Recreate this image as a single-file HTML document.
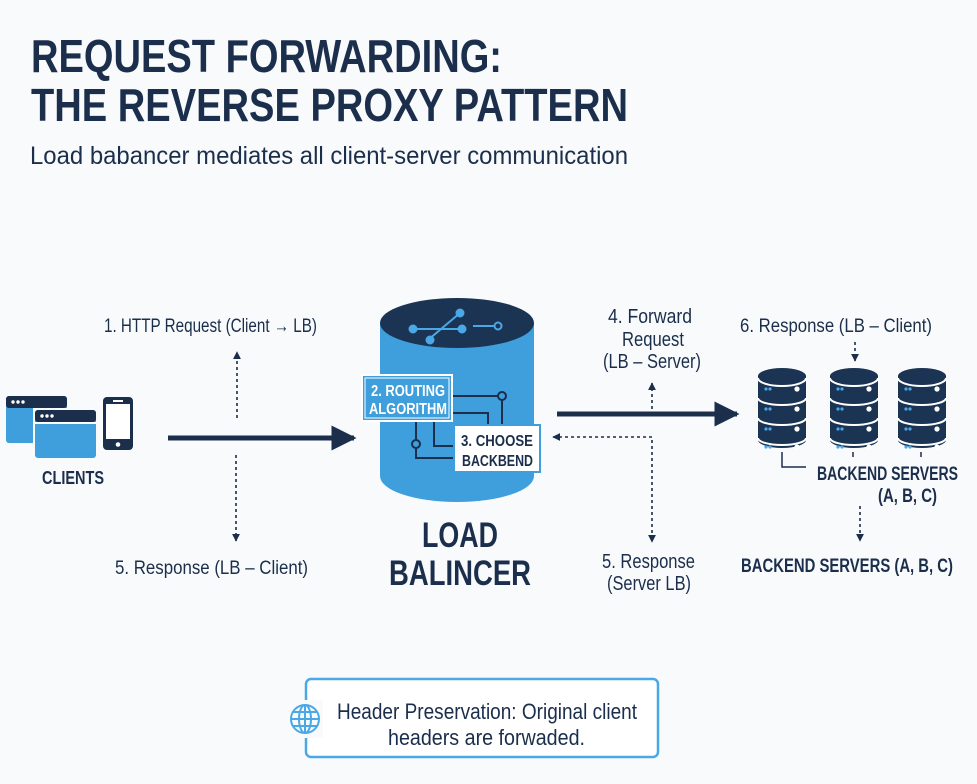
<!DOCTYPE html>
<html><head><meta charset="utf-8"><style>
html,body{margin:0;padding:0;background:#f8fafc;}
svg{display:block;}
text{font-family:"Liberation Sans Narrow","Liberation Sans",sans-serif;fill:#1b2e4b;}
</style></head><body>
<svg width="977" height="784" viewBox="0 0 977 784" xmlns="http://www.w3.org/2000/svg">
<defs>
<marker id="ah" viewBox="0 0 10 10" refX="9" refY="5" markerWidth="5" markerHeight="5" orient="auto-start-reverse"><path d="M0,0 L10,5 L0,10 z" fill="#1b2e4b"/></marker>
<g id="srv">
  <path d="M0,8 A24,8 0 0 1 48,8 L48,72 A24,8 0 0 1 0,72 Z" fill="#1b3454"/>
  <path d="M0,10 A24,8 0 0 0 48,10" fill="none" stroke="#fff" stroke-width="2"/>
  <path d="M0,30 A24,7 0 0 0 48,30" fill="none" stroke="#fff" stroke-width="2"/>
  <path d="M0,50 A24,7 0 0 0 48,50" fill="none" stroke="#fff" stroke-width="2"/>
  <path d="M0,70 A24,7 0 0 0 48,70" fill="none" stroke="#fff" stroke-width="2"/>
  <g fill="#4aa8e6"><circle cx="8" cy="21" r="1.6"/><circle cx="12" cy="21" r="1.6"/><circle cx="8" cy="41" r="1.6"/><circle cx="12" cy="41" r="1.6"/><circle cx="8" cy="61" r="1.6"/><circle cx="12" cy="61" r="1.6"/><circle cx="8" cy="79" r="1.6"/><circle cx="12" cy="79" r="1.6"/></g>
  <g fill="#fff"><circle cx="39" cy="21" r="2.6"/><circle cx="39" cy="41" r="2.6"/><circle cx="39" cy="61" r="2.6"/><circle cx="39" cy="79" r="2.6"/></g>
</g>
</defs>

<text x="31" y="72" font-size="46" font-weight="bold" textLength="471" lengthAdjust="spacingAndGlyphs">REQUEST FORWARDING:</text>
<text x="31" y="121" font-size="46" font-weight="bold" textLength="597" lengthAdjust="spacingAndGlyphs">THE REVERSE PROXY PATTERN</text>
<text x="30" y="164" font-size="25" textLength="598" lengthAdjust="spacingAndGlyphs">Load babancer mediates all client-server communication</text>

<rect x="6" y="396" width="61" height="47" rx="3" fill="#3e9fdc"/>
<rect x="6" y="396" width="61" height="12" rx="3" fill="#1b2e4b"/>
<g fill="#fff"><circle cx="13" cy="402" r="1.7"/><circle cx="18" cy="402" r="1.7"/><circle cx="23" cy="402" r="1.7"/></g>
<rect x="33" y="408" width="64" height="52" fill="#f8fafc"/>
<rect x="35" y="410" width="61" height="48" rx="3" fill="#3e9fdc"/>
<rect x="35" y="410" width="61" height="12" rx="3" fill="#1b2e4b"/>
<rect x="35" y="422" width="61" height="2" fill="#fff"/>
<g fill="#fff"><circle cx="42" cy="416" r="1.7"/><circle cx="47" cy="416" r="1.7"/><circle cx="52" cy="416" r="1.7"/></g>
<rect x="103" y="397" width="30" height="53" rx="4" fill="#1b2e4b"/>
<rect x="106" y="404" width="24" height="35" fill="#fff"/>
<rect x="113" y="400" width="10" height="2" fill="#fff"/>
<circle cx="118" cy="444.5" r="2.3" fill="#fff"/>
<text x="42" y="484" font-size="18" font-weight="bold" textLength="62" lengthAdjust="spacingAndGlyphs">CLIENTS</text>

<line x1="168" y1="438" x2="354" y2="438" stroke="#1b2e4b" stroke-width="5" marker-end="url(#ah)"/>
<line x1="237" y1="418" x2="237" y2="352" stroke="#1b2e4b" stroke-width="1.6" stroke-dasharray="3,3" marker-end="url(#ah)"/>
<line x1="236" y1="455" x2="236" y2="541" stroke="#1b2e4b" stroke-width="1.6" stroke-dasharray="3,3" marker-end="url(#ah)"/>
<text x="104" y="332" font-size="19" textLength="213" lengthAdjust="spacingAndGlyphs">1. HTTP Request (Client → LB)</text>
<text x="115" y="574" font-size="19" textLength="193" lengthAdjust="spacingAndGlyphs">5. Response (LB – Client)</text>

<path d="M380,323 L380,476 A77,26 0 0 0 534,476 L534,323 Z" fill="#3e9fdc"/>
<ellipse cx="457" cy="323" rx="77" ry="25" fill="#1b3454"/>
<g stroke="#4aa8e6" stroke-width="2" fill="#4aa8e6">
  <line x1="413" y1="329" x2="462" y2="329"/>
  <line x1="428" y1="340" x2="460" y2="313"/>
  <circle cx="413" cy="329" r="3.5"/><circle cx="462" cy="329" r="3.5"/><circle cx="430" cy="340" r="3.5"/><circle cx="460" cy="313" r="3.5"/>
  <line x1="473" y1="326" x2="494" y2="326"/>
  <circle cx="498" cy="326" r="3.5" fill="none"/>
</g>
<g stroke="#1b2e4b" stroke-width="2" fill="none">
  <path d="M452,396 L502,396 L502,425"/>
  <circle cx="502" cy="396" r="4" fill="#3e9fdc"/>
  <path d="M452,413 L488,413 L488,425"/>
  <path d="M416,421 L416,458 L454,458"/>
  <circle cx="416" cy="444" r="4" fill="#3e9fdc"/>
  <path d="M434,421 L434,446 L454,446"/>
</g>
<rect x="362" y="375" width="90" height="46" fill="#3e9fdc" stroke="#fff" stroke-width="2"/>
<rect x="365" y="378" width="84" height="40" fill="none" stroke="#fff" stroke-width="1"/>
<text x="371" y="396" font-size="16" font-weight="bold" style="fill:#fff" textLength="74" lengthAdjust="spacingAndGlyphs">2. ROUTING</text>
<text x="369" y="414" font-size="16" font-weight="bold" style="fill:#fff" textLength="78" lengthAdjust="spacingAndGlyphs">ALGORITHM</text>
<rect x="454" y="425" width="86" height="47" fill="#fff" stroke="#3e9fdc" stroke-width="2"/>
<text x="461" y="446" font-size="16" font-weight="bold" textLength="72" lengthAdjust="spacingAndGlyphs">3. CHOOSE</text>
<text x="462" y="466" font-size="16" font-weight="bold" textLength="71" lengthAdjust="spacingAndGlyphs">BACKBEND</text>
<text x="422" y="547" font-size="35" font-weight="bold" textLength="76" lengthAdjust="spacingAndGlyphs">LOAD</text>
<text x="389" y="585" font-size="35" font-weight="bold" textLength="142" lengthAdjust="spacingAndGlyphs">BALINCER</text>

<line x1="557" y1="414" x2="737" y2="414" stroke="#1b2e4b" stroke-width="5" marker-end="url(#ah)"/>
<line x1="652" y1="437" x2="553" y2="437" stroke="#1b2e4b" stroke-width="1.6" stroke-dasharray="3,3" marker-end="url(#ah)"/>
<line x1="652" y1="409" x2="652" y2="383" stroke="#1b2e4b" stroke-width="1.6" stroke-dasharray="3,3" marker-end="url(#ah)"/>
<line x1="652" y1="440" x2="652" y2="542" stroke="#1b2e4b" stroke-width="1.6" stroke-dasharray="3,3" marker-end="url(#ah)"/>
<g font-size="20">
<text x="608" y="323" textLength="84" lengthAdjust="spacingAndGlyphs">4. Forward</text>
<text x="622" y="346" textLength="62" lengthAdjust="spacingAndGlyphs">Request</text>
<text x="603" y="368" textLength="98" lengthAdjust="spacingAndGlyphs">(LB – Server)</text>
<text x="602" y="568" textLength="93" lengthAdjust="spacingAndGlyphs">5. Response</text>
<text x="607" y="590" textLength="84" lengthAdjust="spacingAndGlyphs">(Server LB)</text>
</g>

<text x="740" y="332" font-size="19" textLength="192" lengthAdjust="spacingAndGlyphs">6. Response (LB – Client)</text>
<line x1="855" y1="342" x2="855" y2="361" stroke="#1b2e4b" stroke-width="1.6" stroke-dasharray="3,3" marker-end="url(#ah)"/>
<use href="#srv" x="758" y="368"/>
<use href="#srv" x="830" y="368"/>
<use href="#srv" x="898" y="368"/>
<line x1="853" y1="452" x2="853" y2="457" stroke="#1b2e4b" stroke-width="1.5"/>
<line x1="921" y1="452" x2="921" y2="457" stroke="#1b2e4b" stroke-width="1.5"/>
<path d="M782,452 L782,467 L806,467" fill="none" stroke="#1b2e4b" stroke-width="1.5"/>
<text x="817" y="480" font-size="19" font-weight="bold" textLength="141" lengthAdjust="spacingAndGlyphs">BACKEND SERVERS</text>
<text x="878" y="502" font-size="19" font-weight="bold" textLength="59" lengthAdjust="spacingAndGlyphs">(A, B, C)</text>
<line x1="860" y1="506" x2="860" y2="541" stroke="#1b2e4b" stroke-width="1.6" stroke-dasharray="3,3" marker-end="url(#ah)"/>
<text x="741" y="572" font-size="19" font-weight="bold" textLength="212" lengthAdjust="spacingAndGlyphs">BACKEND SERVERS (A, B, C)</text>

<rect x="306" y="679" width="352" height="78" rx="5" fill="#fff" stroke="#4aa8e6" stroke-width="2.5"/>
<rect x="289" y="700" width="34" height="38" fill="#f8fafc"/>
<g fill="none" stroke="#4aa8e6" stroke-width="2">
  <circle cx="305" cy="719" r="14"/>
  <ellipse cx="305" cy="719" rx="6" ry="14"/>
  <line x1="305" y1="705" x2="305" y2="733"/>
  <line x1="291" y1="719" x2="319" y2="719"/>
  <line x1="293" y1="712" x2="317" y2="712"/>
  <line x1="293" y1="726" x2="317" y2="726"/>
</g>
<text x="337" y="719" font-size="22" textLength="300" lengthAdjust="spacingAndGlyphs">Header Preservation: Original client</text>
<text x="388" y="745" font-size="22" textLength="197" lengthAdjust="spacingAndGlyphs">headers are forwaded.</text>
</svg>
</body></html>
